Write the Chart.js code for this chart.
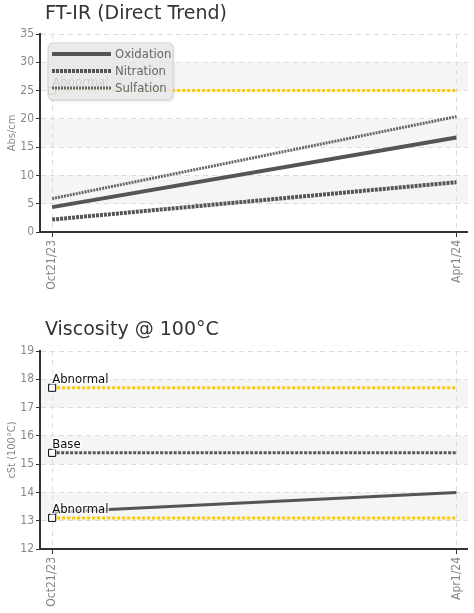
<!DOCTYPE html>
<html>
<head>
<meta charset="utf-8">
<script src="https://cdn.jsdelivr.net/npm/chart.js@4.4.0/dist/chart.umd.min.js"></script>
<style>
  html, body { margin: 0; padding: 0; background: #fff; }
  .box { position: absolute; left: 0; width: 474px; }
  #box1 { top: 0; height: 305px; }
  #box2 { top: 305px; height: 308px; }
</style>
</head>
<body>
<div class="box" id="box1"><canvas id="ftir"></canvas></div>
<div class="box" id="box2"><canvas id="visc"></canvas></div>
<script>
// sample dates (days after the first sample) and their tick labels
const dateLabels = ['Oct21/23', 'Apr1/24'];
const dayOffsets = [0, 163];

// FT-IR, Abs/cm
const oxidation = [4.4, 16.7];
const nitration = [2.2, 8.8];
const sulfation = [5.9, 20.4];
const ftirAbnormal = [25, 25];

// Viscosity @ 100°C, cSt
const viscosity = [13.3, 14.0];
const viscAbnormalHigh = [17.7, 17.7];
const viscBase = [15.4, 15.4];
const viscAbnormalLow = [13.1, 13.1];

const narrow = '"Liberation Sans Narrow", "DejaVu Sans Condensed", sans-serif';
const grey = '#555';
const yellow = '#FFC800';

function points(values) {
    return dayOffsets.map((d, i) => ({x: d, y: values[i]}));
}

function trend(label, values, style) {
    return Object.assign({
        label: label,
        data: points(values),
        borderColor: grey,
        borderWidth: 3,
        pointRadius: 0,
        fill: false
    }, style);
}

function limit(label, values, color) {
    return {
        label: label,
        limit: true,
        data: points(values),
        borderColor: color,
        borderWidth: 3,
        borderDash: [3, 2],
        pointStyle: 'rect',
        pointRadius: [5, 0],
        pointBackgroundColor: '#fff',
        pointBorderColor: '#000',
        pointBorderWidth: 1,
        fill: false
    };
}

// light stripes between every other pair of y ticks, and nudge the title
const bandPlugin = {
    id: 'bands',
    afterLayout(chart) {
        if (chart.titleBlock) chart.titleBlock.left += 5;
    },
    beforeDraw(chart) {
        const {ctx, chartArea, scales: {y}} = chart;
        ctx.save();
        ctx.fillStyle = '#f5f5f5';
        for (let i = 1; i + 1 < y.ticks.length; i += 2) {
            const top = y.getPixelForValue(y.ticks[i + 1].value);
            const bottom = y.getPixelForValue(y.ticks[i].value);
            ctx.fillRect(chartArea.left, top, chartArea.right - chartArea.left, bottom - top);
        }
        ctx.restore();
    }
};

// text next to the first point of each limit line
const limitLabelPlugin = {
    id: 'limitLabels',
    afterDatasetsDraw(chart) {
        const ctx = chart.ctx;
        ctx.save();
        ctx.font = '13px ' + narrow;
        ctx.textBaseline = 'alphabetic';
        ctx.lineWidth = 3;
        ctx.strokeStyle = 'rgba(255,255,255,0.8)';
        ctx.fillStyle = '#111';
        chart.data.datasets.forEach((ds, i) => {
            if (!ds.limit) return;
            const pt = chart.getDatasetMeta(i).data[0];
            ctx.strokeText(ds.label, pt.x, pt.y - 5);
            ctx.fillText(ds.label, pt.x, pt.y - 5);
        });
        ctx.restore();
    }
};

// floating legend box drawn over the plot
const boxLegendPlugin = {
    id: 'boxLegend',
    afterDraw(chart, args, opts) {
        if (!opts.show) return;
        const {ctx, chartArea} = chart;
        const items = chart.data.datasets.filter(ds => !ds.limit);
        const left = chartArea.left + 8, top = chartArea.top + 9;
        const w = 125, h = 57;
        ctx.save();
        ctx.shadowColor = 'rgba(0,0,0,0.15)';
        ctx.shadowBlur = 3;
        ctx.shadowOffsetX = 1;
        ctx.shadowOffsetY = 1;
        ctx.fillStyle = 'rgba(236,236,236,0.88)';
        ctx.beginPath();
        ctx.roundRect(left, top, w, h, 5);
        ctx.fill();
        ctx.shadowColor = 'transparent';
        ctx.strokeStyle = '#d0d0d0';
        ctx.lineWidth = 1;
        ctx.stroke();
        items.forEach((ds, i) => {
            const y = top + 11 + i * 17;
            ctx.beginPath();
            ctx.setLineDash(ds.borderDash || []);
            ctx.strokeStyle = ds.borderColor;
            ctx.lineWidth = ds.borderWidth;
            ctx.moveTo(left + 4, y);
            ctx.lineTo(left + 63, y);
            ctx.stroke();
            ctx.setLineDash([]);
            ctx.fillStyle = '#666';
            ctx.font = '13px ' + narrow;
            ctx.textBaseline = 'middle';
            ctx.fillText(ds.label, left + 67, y + 1);
        });
        ctx.restore();
    }
};

function makeChart(id, cfg) {
    return new Chart(document.getElementById(id), {
        type: 'line',
        data: {datasets: cfg.datasets},
        plugins: [bandPlugin, limitLabelPlugin, boxLegendPlugin],
        options: {
            responsive: true,
            maintainAspectRatio: false,
            animation: false,
            layout: {padding: {left: 0, right: 1, top: 0, bottom: 0}},
            plugins: {
                legend: {display: false},
                tooltip: {enabled: false},
                boxLegend: {show: cfg.legend},
                title: {
                    display: true,
                    text: cfg.title,
                    align: 'start',
                    fullSize: false,
                    color: '#333',
                    font: {family: '"DejaVu Sans", sans-serif', size: 19, weight: 'normal', lineHeight: 1.2},
                    padding: cfg.titlePadding
                }
            },
            scales: {
                x: {
                    type: 'linear',
                    min: -4.9,
                    max: 167.6,
                    afterBuildTicks: s => { s.ticks = dayOffsets.map(v => ({value: v})); },
                    afterFit: s => { s.height = cfg.xHeight; },
                    ticks: {
                        callback: (v, i) => dateLabels[i],
                        autoSkip: false,
                        minRotation: 90,
                        maxRotation: 90,
                        color: '#888',
                        padding: 3,
                        font: {family: narrow, size: 12}
                    },
                    grid: {color: '#dcdcdc', tickColor: '#333', tickLength: 5, tickBorderDash: []},
                    border: {color: '#333', width: 2, dash: [5, 4]}
                },
                y: {
                    min: cfg.yMin,
                    max: cfg.yMax,
                    afterFit: s => { s.width = 40; },
                    ticks: {
                        stepSize: cfg.yStep,
                        color: '#888',
                        padding: 2,
                        font: {family: narrow, size: 12}
                    },
                    title: {
                        display: true,
                        text: cfg.yTitle,
                        color: '#888',
                        padding: {top: 6, bottom: 0},
                        font: {family: narrow, size: 11}
                    },
                    grid: {color: '#dcdcdc', tickColor: '#333', tickLength: 4, tickBorderDash: []},
                    border: {color: '#333', width: 2, dash: [5, 4]}
                }
            }
        }
    });
}

makeChart('ftir', {
    title: 'FT-IR (Direct Trend)',
    titlePadding: {top: 2.6, bottom: 8.6},
    xHeight: 73,
    yMin: 0, yMax: 35, yStep: 5,
    yTitle: 'Abs/cm',
    legend: true,
    datasets: [
        trend('Oxidation', oxidation, {borderWidth: 4}),
        trend('Nitration', nitration, {borderWidth: 4, borderDash: [3, 1]}),
        trend('Sulfation', sulfation, {borderWidth: 3, borderDash: [2, 1], borderColor: '#666'}),
        limit('Abnormal', ftirAbnormal, yellow)
    ]
});

makeChart('visc', {
    title: 'Viscosity @ 100°C',
    titlePadding: {top: 13.6, bottom: 9.6},
    xHeight: 64,
    yMin: 12, yMax: 19, yStep: 1,
    yTitle: 'cSt (100°C)',
    legend: false,
    datasets: [
        trend('Viscosity', viscosity, {borderWidth: 3}),
        limit('Abnormal', viscAbnormalHigh, yellow),
        Object.assign(limit('Base', viscBase, grey), {borderDash: [3, 1.5]}),
        limit('Abnormal', viscAbnormalLow, yellow)
    ]
});
</script>
</body>
</html>
